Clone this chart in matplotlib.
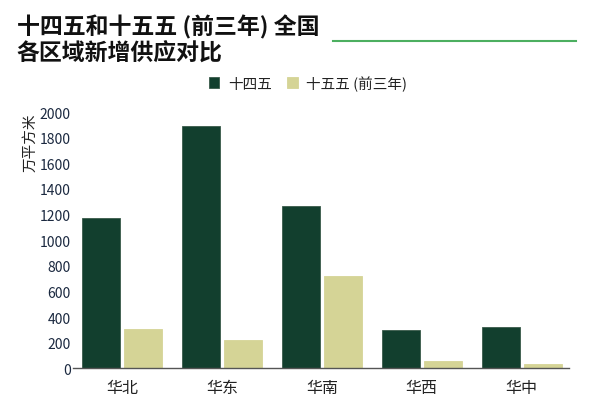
import matplotlib
matplotlib.use("Agg")
import matplotlib.pyplot as plt
import numpy as np
from matplotlib.lines import Line2D

plt.rcParams['font.family'] = ['Noto Sans CJK SC', 'DejaVu Sans']

categories = ['华北', '华东', '华南', '华西', '华中']
series_names = ['十四五', '十五五 (前三年)']
s14 = [1170, 1890, 1270, 300, 325]
s15 = [310, 220, 720, 55, 35]
yticks = [0, 200, 400, 600, 800, 1000, 1200, 1400, 1600, 1800, 2000]

dark = '#123f2e'
light = '#d5d496'
tickc = '#1b2940'

fig = plt.figure(figsize=(6.0, 4.14), dpi=100)
ax = fig.add_axes([0.1217, 0.108, 0.826, 0.619])

x = np.arange(len(categories))
w = 0.38
off = 0.21
ax.bar(x - off, s14, w, color=dark, edgecolor='#3a5a4a', linewidth=0.6, label=series_names[0])
ax.bar(x + off, s15, w, color=light, edgecolor=light, linewidth=0.6, label=series_names[1])

ax.set_xlim(-0.49, 4.47)
ax.set_ylim(0, 2000)
ax.set_yticks(yticks)
ax.set_xticks(x)
ax.set_xticklabels(categories, fontsize=11.5, color='#222222')
ax.tick_params(axis='y', length=0, labelsize=10, colors=tickc, pad=1.5)
ax.tick_params(axis='x', length=0, pad=8)
for s in ['top', 'right', 'left']:
    ax.spines[s].set_visible(False)
ax.spines['bottom'].set_color('#555555')
ax.spines['bottom'].set_linewidth(1.0)

ax.set_ylabel('万平方米', fontsize=10.5, color='#222222', loc='top', labelpad=2)

fig.text(0.028, 1 - 27/414, '十四五和十五五 (前三年) 全国', fontsize=16.5, fontweight='bold', color='#111111', va='center', ha='left')
fig.text(0.028, 1 - 54/414, '各区域新增供应对比', fontsize=16.5, fontweight='bold', color='#111111', va='center', ha='left')
fig.add_artist(Line2D([333/600, 576/600], [1 - 42/414, 1 - 42/414], color='#4caf60', linewidth=1.5))

leg = ax.legend(loc='center', bbox_to_anchor=(0.474, 1.113), ncol=2, frameon=False,
                fontsize=10.5, handlelength=0.75, handleheight=0.75, handletextpad=0.6, columnspacing=1.0)
for t in leg.get_texts():
    t.set_color('#222222')

fig.savefig('out.png', dpi=100)
